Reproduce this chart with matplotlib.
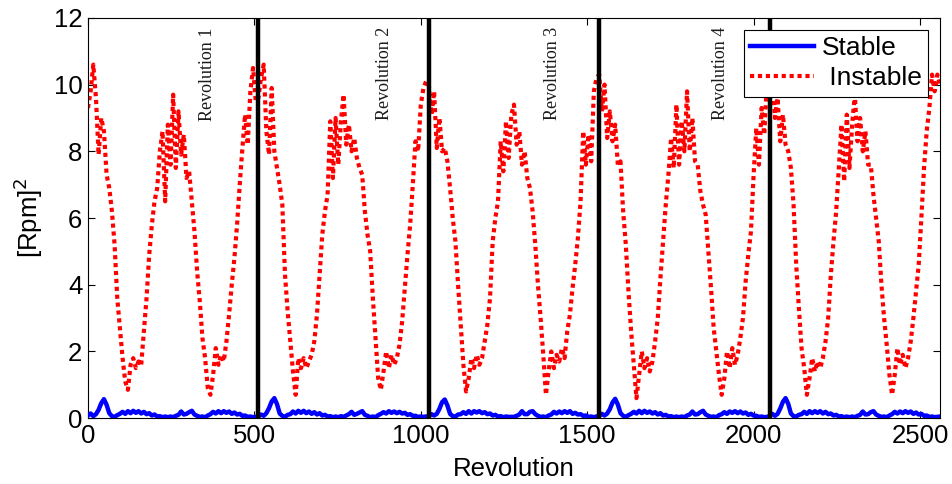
import numpy as np
import matplotlib
matplotlib.use("Agg")
import matplotlib.pyplot as plt

# Sampled every 8 revolutions, one list per revolution (512 samples each)
step = 8
instable_rev1 = [9.3, 9.8, 10.6, 9.6, 7.9, 9.0, 8.6, 7.3, 6.9, 6.2, 5.2, 3.6, 2.7, 1.8, 1.1, 0.85,
                 1.6, 1.8, 1.5, 1.7, 1.6, 2.6, 3.6, 4.9, 5.8, 6.5, 6.9, 8.0, 8.6, 6.5, 8.8, 7.6,
                 9.7, 7.5, 9.2, 7.9, 8.5, 7.2, 7.4, 6.5, 5.6, 4.4, 3.5, 2.4, 1.8, 0.9, 0.7, 1.3,
                 2.1, 1.6, 1.9, 1.7, 2.3, 3.1, 4.0, 4.8, 5.8, 7.0, 8.1, 9.1, 8.2, 9.8, 10.5, 9.5]
instable_rev2 = [9.6, 10.2, 10.6, 8.6, 7.9, 9.9, 8.0, 7.5, 7.0, 6.4, 4.3, 3.2, 2.3, 1.4, 0.7, 1.8,
                 1.5, 1.8, 1.5, 1.7, 1.9, 2.3, 3.1, 4.3, 5.5, 6.2, 6.7, 8.9, 7.2, 9.0, 7.6, 8.9,
                 9.7, 8.2, 8.8, 8.0, 8.4, 7.8, 7.5, 7.3, 6.2, 5.5, 5.0, 3.6, 2.4, 1.2, 0.85, 1.4,
                 2.0, 1.5, 1.9, 1.6, 1.8, 2.2, 2.9, 3.9, 4.9, 5.8, 7.0, 8.3, 8.0, 9.4, 9.9, 10.1]
instable_rev3 = [10.0, 9.1, 9.8, 8.1, 9.0, 8.0, 8.1, 7.7, 6.9, 6.0, 5.3, 4.0, 2.8, 1.6, 0.8, 1.2,
                 1.8, 1.5, 1.9, 1.6, 1.8, 2.3, 2.8, 3.6, 5.3, 6.0, 6.5, 8.3, 7.4, 8.9, 7.8, 9.1,
                 9.4, 8.2, 8.6, 7.6, 8.0, 7.2, 6.9, 6.2, 5.2, 4.0, 3.0, 1.9, 0.7, 1.4, 2.0, 1.5,
                 1.9, 1.7, 2.1, 1.8, 2.6, 3.1, 3.9, 4.6, 5.4, 6.5, 8.6, 7.6, 8.5, 7.7, 9.8, 10.2]
instable_rev4 = [10.3, 9.2, 10.0, 8.4, 9.2, 8.3, 8.8, 7.6, 7.7, 6.2, 5.2, 3.8, 2.6, 1.6, 0.6, 1.3,
                 2.0, 1.5, 1.8, 1.4, 1.7, 2.3, 3.0, 4.2, 5.3, 6.4, 7.3, 8.4, 7.5, 9.4, 7.6, 8.9,
                 8.0, 9.8, 8.0, 9.0, 7.7, 7.6, 6.8, 6.4, 6.1, 5.0, 3.9, 2.7, 2.0, 1.3, 0.7, 1.2,
                 2.0, 1.5, 2.1, 1.6, 1.9, 2.4, 3.0, 4.1, 4.9, 5.6, 7.3, 8.7, 7.6, 9.3, 8.5, 10.1]
instable_rev5 = [9.6, 10.3, 9.0, 9.6, 8.3, 9.1, 8.2, 8.0, 7.5, 6.4, 4.6, 3.3, 2.1, 1.5, 0.7, 1.2,
                 1.8, 1.4, 1.7, 1.5, 1.8, 2.3, 3.0, 4.3, 5.3, 6.2, 7.5, 8.8, 7.1, 9.1, 7.5, 8.8,
                 9.7, 8.3, 9.0, 8.0, 8.6, 7.6, 7.6, 6.7, 6.0, 5.3, 4.0, 3.0, 2.2, 1.3, 0.7, 1.3,
                 2.1, 1.6, 1.9, 1.5, 1.8, 2.3, 3.0, 3.8, 4.6, 6.0, 7.5, 8.6, 9.3, 10.3, 9.8, 10.3, 10.0]

stable_rev1 = [0.08, 0.14, 0.06, 0.12, 0.25, 0.45, 0.57, 0.40, 0.15, 0.06, 0.04, 0.09, 0.13, 0.19, 0.13, 0.21,
               0.15, 0.22, 0.16, 0.21, 0.14, 0.19, 0.12, 0.15, 0.08, 0.11, 0.05, 0.06, 0.03, 0.05, 0.03, 0.05,
               0.03, 0.07, 0.10, 0.20, 0.11, 0.13, 0.18, 0.22, 0.11, 0.07, 0.04, 0.05, 0.03, 0.08, 0.12, 0.19,
               0.14, 0.21, 0.15, 0.21, 0.16, 0.20, 0.13, 0.17, 0.11, 0.13, 0.07, 0.08, 0.04, 0.05, 0.03, 0.04]
stable_rev2 = [0.05, 0.11, 0.07, 0.15, 0.30, 0.50, 0.60, 0.42, 0.14, 0.07, 0.04, 0.10, 0.12, 0.20, 0.14, 0.22,
               0.16, 0.22, 0.15, 0.20, 0.13, 0.18, 0.11, 0.15, 0.08, 0.10, 0.05, 0.06, 0.03, 0.05, 0.03, 0.06,
               0.04, 0.08, 0.12, 0.19, 0.10, 0.13, 0.17, 0.21, 0.10, 0.07, 0.03, 0.05, 0.03, 0.09, 0.13, 0.18,
               0.14, 0.21, 0.16, 0.20, 0.15, 0.19, 0.14, 0.16, 0.10, 0.12, 0.07, 0.07, 0.04, 0.05, 0.04, 0.05]
stable_rev3 = [0.06, 0.12, 0.08, 0.13, 0.28, 0.48, 0.56, 0.38, 0.13, 0.06, 0.05, 0.11, 0.12, 0.18, 0.13, 0.21,
               0.14, 0.21, 0.17, 0.21, 0.15, 0.18, 0.12, 0.14, 0.08, 0.10, 0.05, 0.06, 0.03, 0.05, 0.04, 0.04,
               0.04, 0.07, 0.11, 0.21, 0.12, 0.12, 0.19, 0.21, 0.12, 0.07, 0.04, 0.05, 0.03, 0.08, 0.11, 0.19,
               0.14, 0.20, 0.15, 0.21, 0.16, 0.21, 0.13, 0.16, 0.11, 0.12, 0.07, 0.08, 0.04, 0.05, 0.03, 0.05]
stable_rev4 = [0.07, 0.13, 0.08, 0.14, 0.27, 0.47, 0.58, 0.41, 0.15, 0.07, 0.04, 0.09, 0.13, 0.19, 0.14, 0.22,
               0.15, 0.22, 0.16, 0.20, 0.14, 0.18, 0.11, 0.15, 0.08, 0.10, 0.05, 0.06, 0.03, 0.05, 0.03, 0.05,
               0.03, 0.08, 0.11, 0.20, 0.11, 0.12, 0.18, 0.22, 0.11, 0.07, 0.04, 0.05, 0.03, 0.09, 0.12, 0.18,
               0.13, 0.20, 0.16, 0.21, 0.15, 0.20, 0.14, 0.17, 0.10, 0.13, 0.08, 0.07, 0.04, 0.05, 0.03, 0.04]
stable_rev5 = [0.06, 0.13, 0.07, 0.13, 0.29, 0.49, 0.60, 0.43, 0.14, 0.06, 0.05, 0.10, 0.12, 0.19, 0.13, 0.21,
               0.15, 0.21, 0.16, 0.21, 0.14, 0.19, 0.12, 0.14, 0.08, 0.10, 0.05, 0.06, 0.03, 0.05, 0.03, 0.05,
               0.03, 0.07, 0.10, 0.20, 0.11, 0.12, 0.18, 0.21, 0.11, 0.07, 0.04, 0.05, 0.03, 0.08, 0.12, 0.19,
               0.14, 0.20, 0.15, 0.21, 0.16, 0.20, 0.13, 0.17, 0.11, 0.13, 0.07, 0.08, 0.04, 0.05, 0.03, 0.04, 0.05]

rev_bounds = [512, 1024, 1536, 2048]
rev_labels = ["Revolution 1", "Revolution 2", "Revolution 3", "Revolution 4"]
rev_label_x = [358, 892, 1397, 1899]

instable = np.array(instable_rev1 + instable_rev2 + instable_rev3 + instable_rev4 + instable_rev5)
stable = np.array(stable_rev1 + stable_rev2 + stable_rev3 + stable_rev4 + stable_rev5)
x_inst = np.arange(len(instable)) * step
x_stab = np.arange(len(stable)) * step

plt.rcParams["font.family"] = ["Liberation Sans", "DejaVu Sans"]

fig = plt.figure(figsize=(9.52, 4.84), dpi=100)
ax = fig.add_axes([0.0924, 0.136, 0.8950, 0.827])

ax.plot(x_stab, stable, color="#0000ff", lw=3.2, label="Stable", zorder=3)
ax.plot(x_inst, instable, color="#ff0000", lw=3.0, ls=(0, (1, 0.9)),
        dash_capstyle="butt", label=" Instable", zorder=2)
for b in rev_bounds:
    ax.axvline(b, color="black", lw=3.2, zorder=4)

for xl, txt in zip(rev_label_x, rev_labels):
    ax.text(xl, 11.72, txt, rotation=90, ha="center", va="top", fontsize=13,
            family=["Liberation Serif", "DejaVu Serif"], color="#1a1a1a", zorder=1)

ax.set_xlim(0, 2560)
ax.set_ylim(0, 12)
ax.set_xticks([0, 500, 1000, 1500, 2000, 2500])
ax.set_yticks([0, 2, 4, 6, 8, 10, 12])
ax.tick_params(direction="in", length=5, width=0.8, labelsize=18.5, top=True, right=True, pad=4)
ax.set_xlabel("Revolution", fontsize=18.5, labelpad=7)
ax.set_ylabel("[Rpm]$^2$", fontsize=18.5, labelpad=6)

leg = ax.legend(loc="upper right", fontsize=19, frameon=True, fancybox=False,
                edgecolor="black", framealpha=1, handlelength=2.4, handletextpad=0.3,
                labelspacing=0.22, borderpad=0.25, borderaxespad=0.45)
leg.get_frame().set_linewidth(0.8)

fig.savefig("out.png", dpi=100)
